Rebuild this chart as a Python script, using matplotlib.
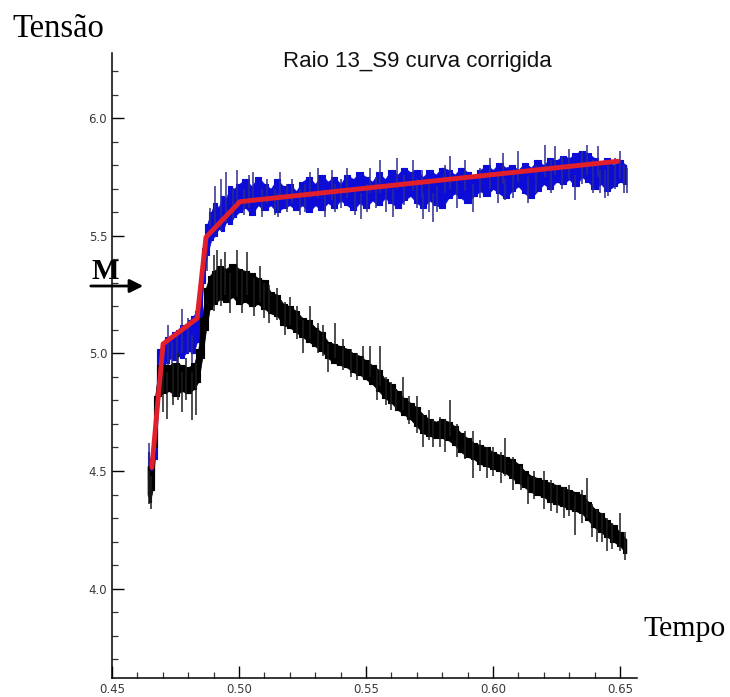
import matplotlib
matplotlib.use("Agg")
import matplotlib.pyplot as plt
from matplotlib.patches import FancyArrowPatch
from matplotlib.ticker import MultipleLocator, FixedLocator

# ---------------- data ----------------
# blue trace: dense core band (time, low edge, high edge)
blue_t = [0.4643, 0.4650, 0.4660, 0.4668, 0.4690, 0.4700, 0.4715, 0.4730, 0.4745,
          0.4760, 0.4775, 0.4790, 0.4805, 0.4820, 0.4835, 0.4848, 0.4860, 0.4875,
          0.4890, 0.4905, 0.4920, 0.4935, 0.4950, 0.4965, 0.4980,
          0.5000, 0.5025, 0.5050, 0.5075, 0.5100, 0.5125, 0.5150, 0.5175, 0.5200,
          0.5225, 0.5250, 0.5275, 0.5300, 0.5325, 0.5350, 0.5375, 0.5400, 0.5425,
          0.5450, 0.5475, 0.5500, 0.5525, 0.5550, 0.5575, 0.5600, 0.5625, 0.5650,
          0.5675, 0.5700, 0.5725, 0.5750, 0.5775, 0.5800, 0.5825, 0.5850, 0.5875,
          0.5900, 0.5925, 0.5950, 0.5975, 0.6000, 0.6025, 0.6050, 0.6075, 0.6100,
          0.6125, 0.6150, 0.6175, 0.6200, 0.6225, 0.6250, 0.6275, 0.6300, 0.6325,
          0.6350, 0.6375, 0.6400, 0.6425, 0.6450, 0.6475, 0.6500, 0.6525]
blue_lo = [4.46, 4.43, 4.45, 4.55, 4.90, 4.95, 4.96, 4.98, 4.97,
           4.99, 4.98, 5.00, 5.01, 5.00, 5.05, 5.15, 5.30, 5.42,
           5.48, 5.50, 5.53, 5.52, 5.56, 5.55, 5.58,
           5.60, 5.62, 5.59, 5.63, 5.61, 5.63, 5.60, 5.62, 5.63,
           5.61, 5.63, 5.60, 5.63, 5.61, 5.64, 5.62, 5.65, 5.63,
           5.61, 5.64, 5.62, 5.65, 5.63, 5.66, 5.64, 5.62, 5.65,
           5.67, 5.64, 5.62, 5.65, 5.63, 5.62, 5.66, 5.68, 5.66,
           5.64, 5.67, 5.69, 5.67, 5.70, 5.68, 5.66, 5.69, 5.71,
           5.68, 5.66, 5.69, 5.72, 5.70, 5.73, 5.72, 5.74, 5.71,
           5.75, 5.73, 5.70, 5.72, 5.69, 5.71, 5.73, 5.72]
blue_hi = [4.58, 4.55, 4.52, 4.65, 5.02, 5.05, 5.07, 5.06, 5.09,
           5.10, 5.12, 5.11, 5.14, 5.16, 5.18, 5.30, 5.45, 5.55,
           5.60, 5.64, 5.62, 5.67, 5.66, 5.71, 5.70,
           5.72, 5.74, 5.71, 5.75, 5.72, 5.70, 5.74, 5.71, 5.72,
           5.69, 5.73, 5.75, 5.72, 5.76, 5.73, 5.75, 5.72, 5.76,
           5.74, 5.77, 5.75, 5.73, 5.77, 5.74, 5.78, 5.76, 5.79,
           5.77, 5.78, 5.75, 5.78, 5.76, 5.79, 5.78, 5.76, 5.79,
           5.77, 5.75, 5.78, 5.80, 5.78, 5.81, 5.79, 5.80, 5.78,
           5.81, 5.79, 5.82, 5.80, 5.83, 5.82, 5.84, 5.83, 5.85,
           5.86, 5.85, 5.83, 5.81, 5.83, 5.80, 5.82, 5.80]
# blue spikes (time, low end, high end)
blue_spk_t = [0.4646, 0.4720, 0.4735, 0.4755, 0.4775, 0.4800, 0.4815, 0.4875, 0.4886,
              0.4906, 0.4930, 0.4950, 0.4976, 0.4992, 0.5020, 0.5040, 0.5055, 0.5090,
              0.5110, 0.5140, 0.5154, 0.5161, 0.5190, 0.5209, 0.5240, 0.5260, 0.5280,
              0.5311, 0.5340, 0.5366, 0.5378, 0.5400, 0.5425, 0.5455, 0.5480, 0.5504,
              0.5516, 0.5540, 0.5555, 0.5580, 0.5606, 0.5622, 0.5650, 0.5685, 0.5700,
              0.5720, 0.5724, 0.5750, 0.5764, 0.5780, 0.5810, 0.5830, 0.5860, 0.5890,
              0.5921, 0.5950, 0.5990, 0.6020, 0.6040, 0.6047, 0.6080, 0.6100, 0.6138,
              0.6170, 0.6205, 0.6230, 0.6244, 0.6270, 0.6300, 0.6323, 0.6350, 0.6370,
              0.6395, 0.6413, 0.6420, 0.6440, 0.6453, 0.6480, 0.6500, 0.6515, 0.6528]
blue_spk_lo = [4.45, 4.95, 4.93, 4.95, 5.00, 5.00, 4.96, 5.35, 5.54,
               5.55, 5.52, 5.56, 5.57, 5.62, 5.59, 5.62, 5.66, 5.58,
               5.64, 5.59, 5.58, 5.65, 5.60, 5.64, 5.59, 5.60, 5.66,
               5.66, 5.58, 5.65, 5.60, 5.62, 5.66, 5.59, 5.57, 5.60,
               5.68, 5.62, 5.68, 5.60, 5.58, 5.70, 5.63, 5.69, 5.62,
               5.66, 5.57, 5.60, 5.56, 5.60, 5.68, 5.70, 5.62, 5.69,
               5.60, 5.66, 5.70, 5.64, 5.72, 5.65, 5.66, 5.73, 5.64,
               5.68, 5.75, 5.68, 5.76, 5.70, 5.74, 5.65, 5.72, 5.76,
               5.68, 5.75, 5.68, 5.66, 5.67, 5.70, 5.74, 5.68, 5.68]
blue_spk_hi = [4.62, 5.12, 5.05, 5.10, 5.19, 5.15, 5.08, 5.50, 5.62,
               5.71, 5.74, 5.77, 5.70, 5.78, 5.70, 5.76, 5.77, 5.70,
               5.74, 5.70, 5.68, 5.77, 5.72, 5.74, 5.70, 5.72, 5.77,
               5.79, 5.70, 5.78, 5.72, 5.74, 5.79, 5.70, 5.68, 5.72,
               5.79, 5.75, 5.82, 5.72, 5.70, 5.83, 5.76, 5.82, 5.74,
               5.78, 5.68, 5.72, 5.68, 5.71, 5.80, 5.84, 5.74, 5.82,
               5.72, 5.79, 5.83, 5.76, 5.85, 5.74, 5.78, 5.86, 5.75,
               5.80, 5.885, 5.82, 5.88, 5.84, 5.87, 5.76, 5.86, 5.885,
               5.82, 5.88, 5.78, 5.78, 5.80, 5.83, 5.86, 5.80, 5.79]

# black trace: dense core band (time, low edge, high edge)
black_t = [0.4640, 0.4650, 0.4660, 0.4670, 0.4685, 0.4700, 0.4725, 0.4750, 0.4775,
           0.4800, 0.4825, 0.4840, 0.4855, 0.4870, 0.4885, 0.4900, 0.4925, 0.4950,
           0.4975, 0.5000, 0.5025, 0.5050, 0.5075, 0.5100, 0.5125, 0.5150, 0.5175,
           0.5200, 0.5225, 0.5250, 0.5275, 0.5300, 0.5325, 0.5350, 0.5375, 0.5400,
           0.5425, 0.5450, 0.5475, 0.5500, 0.5525, 0.5550, 0.5575, 0.5600, 0.5625,
           0.5650, 0.5675, 0.5700, 0.5725, 0.5750, 0.5775, 0.5800, 0.5825, 0.5850,
           0.5875, 0.5900, 0.5925, 0.5950, 0.5975, 0.6000, 0.6025, 0.6050, 0.6075,
           0.6100, 0.6125, 0.6150, 0.6175, 0.6200, 0.6225, 0.6250, 0.6275, 0.6300,
           0.6325, 0.6350, 0.6375, 0.6400, 0.6425, 0.6450, 0.6475, 0.6500, 0.6525]
black_lo = [4.40, 4.37, 4.42, 4.60, 4.82, 4.83, 4.84, 4.82, 4.84,
            4.83, 4.85, 4.88, 4.98, 5.10, 5.19, 5.21, 5.23, 5.22,
            5.24, 5.21, 5.22, 5.20, 5.21, 5.19, 5.17, 5.16, 5.12,
            5.11, 5.09, 5.07, 5.05, 5.03, 5.01, 4.98, 4.96, 4.95,
            4.94, 4.92, 4.91, 4.89, 4.87, 4.84, 4.81, 4.79, 4.76,
            4.74, 4.72, 4.69, 4.66, 4.65, 4.64, 4.64, 4.63, 4.61,
            4.58, 4.56, 4.55, 4.53, 4.52, 4.51, 4.50, 4.49, 4.47,
            4.45, 4.43, 4.41, 4.40, 4.39, 4.37, 4.36, 4.35, 4.34,
            4.33, 4.32, 4.29, 4.26, 4.24, 4.22, 4.20, 4.18, 4.15]
black_hi = [4.52, 4.50, 4.50, 4.82, 4.95, 4.95, 4.95, 4.96, 4.95,
            4.94, 4.96, 5.02, 5.15, 5.28, 5.33, 5.35, 5.37, 5.36,
            5.38, 5.36, 5.35, 5.34, 5.32, 5.31, 5.26, 5.25, 5.21,
            5.20, 5.18, 5.15, 5.14, 5.11, 5.09, 5.05, 5.04, 5.03,
            5.02, 5.00, 4.99, 4.97, 4.95, 4.93, 4.89, 4.87, 4.84,
            4.81, 4.79, 4.77, 4.74, 4.72, 4.71, 4.72, 4.71, 4.69,
            4.66, 4.64, 4.62, 4.61, 4.60, 4.58, 4.57, 4.56, 4.55,
            4.53, 4.50, 4.48, 4.47, 4.46, 4.45, 4.44, 4.43, 4.42,
            4.41, 4.40, 4.37, 4.34, 4.32, 4.29, 4.27, 4.24, 4.21]
# black spikes (time, low end, high end)
black_spk_t = [0.4645, 0.4655, 0.4700, 0.4715, 0.4740, 0.4760, 0.4775, 0.4790, 0.4815,
               0.4830, 0.4900, 0.4913, 0.4930, 0.4945, 0.4965, 0.4992, 0.5010, 0.5030,
               0.5060, 0.5083, 0.5100, 0.5120, 0.5150, 0.5180, 0.5200, 0.5230, 0.5252,
               0.5280, 0.5310, 0.5330, 0.5350, 0.5378, 0.5410, 0.5440, 0.5465, 0.5490,
               0.5516, 0.5543, 0.5555, 0.5580, 0.5600, 0.5620, 0.5646, 0.5670, 0.5700,
               0.5724, 0.5750, 0.5764, 0.5790, 0.5810, 0.5831, 0.5860, 0.5890, 0.5921,
               0.5950, 0.5976, 0.6000, 0.6030, 0.6047, 0.6080, 0.6110, 0.6138, 0.6160,
               0.6200, 0.6230, 0.6252, 0.6280, 0.6300, 0.6323, 0.6350, 0.6370, 0.6390,
               0.6410, 0.6430, 0.6449, 0.6470, 0.6500, 0.6520]
black_spk_lo = [4.36, 4.34, 4.75, 4.72, 4.78, 4.80, 4.75, 4.80, 4.715,
                4.74, 5.18, 5.22, 5.20, 5.25, 5.17, 5.24, 5.17, 5.25,
                5.16, 5.22, 5.15, 5.13, 5.14, 5.08, 5.12, 5.06, 5.00,
                5.06, 5.00, 4.99, 4.92, 4.98, 4.93, 4.90, 4.885, 4.90,
                4.90, 4.80, 4.86, 4.78, 4.76, 4.76, 4.76, 4.70, 4.66,
                4.60, 4.63, 4.60, 4.60, 4.58, 4.65, 4.56, 4.55, 4.47,
                4.50, 4.47, 4.48, 4.45, 4.48, 4.42, 4.42, 4.36, 4.38,
                4.34, 4.33, 4.32, 4.30, 4.31, 4.23, 4.28, 4.30, 4.22,
                4.20, 4.20, 4.16, 4.17, 4.16, 4.12]
black_spk_hi = [4.50, 4.48, 4.95, 4.92, 4.96, 5.00, 4.92, 4.98, 4.92,
                4.96, 5.42, 5.44, 5.40, 5.43, 5.34, 5.44, 5.35, 5.43,
                5.32, 5.37, 5.30, 5.29, 5.28, 5.22, 5.24, 5.20, 5.14,
                5.20, 5.13, 5.12, 5.04, 5.13, 5.06, 5.02, 5.00, 5.03,
                5.03, 4.93, 5.03, 4.90, 4.88, 4.85, 4.90, 4.82, 4.82,
                4.74, 4.76, 4.72, 4.73, 4.72, 4.80, 4.70, 4.67, 4.67,
                4.63, 4.60, 4.60, 4.58, 4.64, 4.56, 4.52, 4.48, 4.50,
                4.50, 4.46, 4.44, 4.43, 4.44, 4.40, 4.42, 4.47, 4.36,
                4.34, 4.32, 4.30, 4.28, 4.32, 4.24]

# red corrected curve (piecewise linear)
red_t = [0.4657, 0.4701, 0.4835, 0.4870, 0.5004, 0.6492]
red_y = [4.515, 5.040, 5.149, 5.494, 5.645, 5.817]

x_major = [0.45, 0.50, 0.55, 0.60, 0.65]
y_major = [4.0, 4.5, 5.0, 5.5, 6.0]
x_labels = ["0.45", "0.50", "0.55", "0.60", "0.65"]
y_labels = ["4.0", "4.5", "5.0", "5.5", "6.0"]

title_text = "Raio 13_S9 curva corrigida"
ylabel_text = "Tensão"
xlabel_text = "Tempo"
marker_text = "M"

# ---------------- figure ----------------
W, H = 730, 697
fig = plt.figure(figsize=(W / 100, H / 100), dpi=100)
ax = fig.add_axes([112 / W, 19 / H, 525 / W, 625 / H])
ax.set_xlim(0.45, 0.6567)
ax.set_ylim(3.62, 6.277)

BLUE = "#0c0cd6"
# blue: stepped + linear fill gives a dense, jagged band
ax.fill_between(blue_t, blue_lo, blue_hi, step="mid", color=BLUE,
                edgecolor=BLUE, lw=0.8, zorder=2)
ax.fill_between(blue_t, blue_lo, blue_hi, color=BLUE, edgecolor=BLUE, lw=0.5, zorder=2)
ax.vlines(blue_spk_t, blue_spk_lo, blue_spk_hi, color="#2c2c90", lw=1.1, zorder=2)
# black
ax.fill_between(black_t, black_lo, black_hi, step="mid", color="black",
                edgecolor="black", lw=0.8, zorder=3)
ax.fill_between(black_t, black_lo, black_hi, color="black", edgecolor="black", lw=0.5, zorder=3)
ax.vlines(black_spk_t, black_spk_lo, black_spk_hi, color="#1e1e1e", lw=1.1, zorder=3)
# red
ax.plot(red_t, red_y, color="#e2202c", lw=3.5, solid_joinstyle="round",
        solid_capstyle="round", zorder=4)

# axes styling
for s in ["top", "right"]:
    ax.spines[s].set_visible(False)
for s in ["left", "bottom"]:
    ax.spines[s].set_linewidth(1.1)
ax.xaxis.set_major_locator(FixedLocator(x_major))
ax.yaxis.set_major_locator(FixedLocator(y_major))
ax.set_xticklabels(x_labels)
ax.set_yticklabels(y_labels)
ax.xaxis.set_minor_locator(MultipleLocator(0.01))
ax.yaxis.set_minor_locator(MultipleLocator(0.1))
ax.tick_params(which="major", direction="in", length=8.5, width=1.0,
               labelsize=8.5, labelcolor="#3a3a3a", pad=3.5)
ax.tick_params(which="minor", direction="in", length=4, width=0.9, color="#333333")

# texts
fig.text(417 / W, 1 - 62 / H, title_text, ha="center", va="center",
         fontsize=16, family="Liberation Sans", color="#111111")
fig.text(12 / W, 1 - 37 / H, ylabel_text, ha="left", va="baseline",
         fontsize=23.5, family="Liberation Serif")
fig.text(643 / W, 1 - 636 / H, xlabel_text, ha="left", va="baseline",
         fontsize=21.5, family="Liberation Serif")
fig.text(92 / W, 1 - 279 / H, marker_text, ha="left", va="baseline",
         fontsize=21, family="Liberation Serif", weight="bold")
fig.add_artist(FancyArrowPatch(
    (88 / W, 1 - 286 / H), (146 / W, 1 - 286 / H), transform=fig.transFigure,
    arrowstyle="-|>", mutation_scale=20, lw=2.0, color="black"))

fig.savefig("out.png", dpi=100)
